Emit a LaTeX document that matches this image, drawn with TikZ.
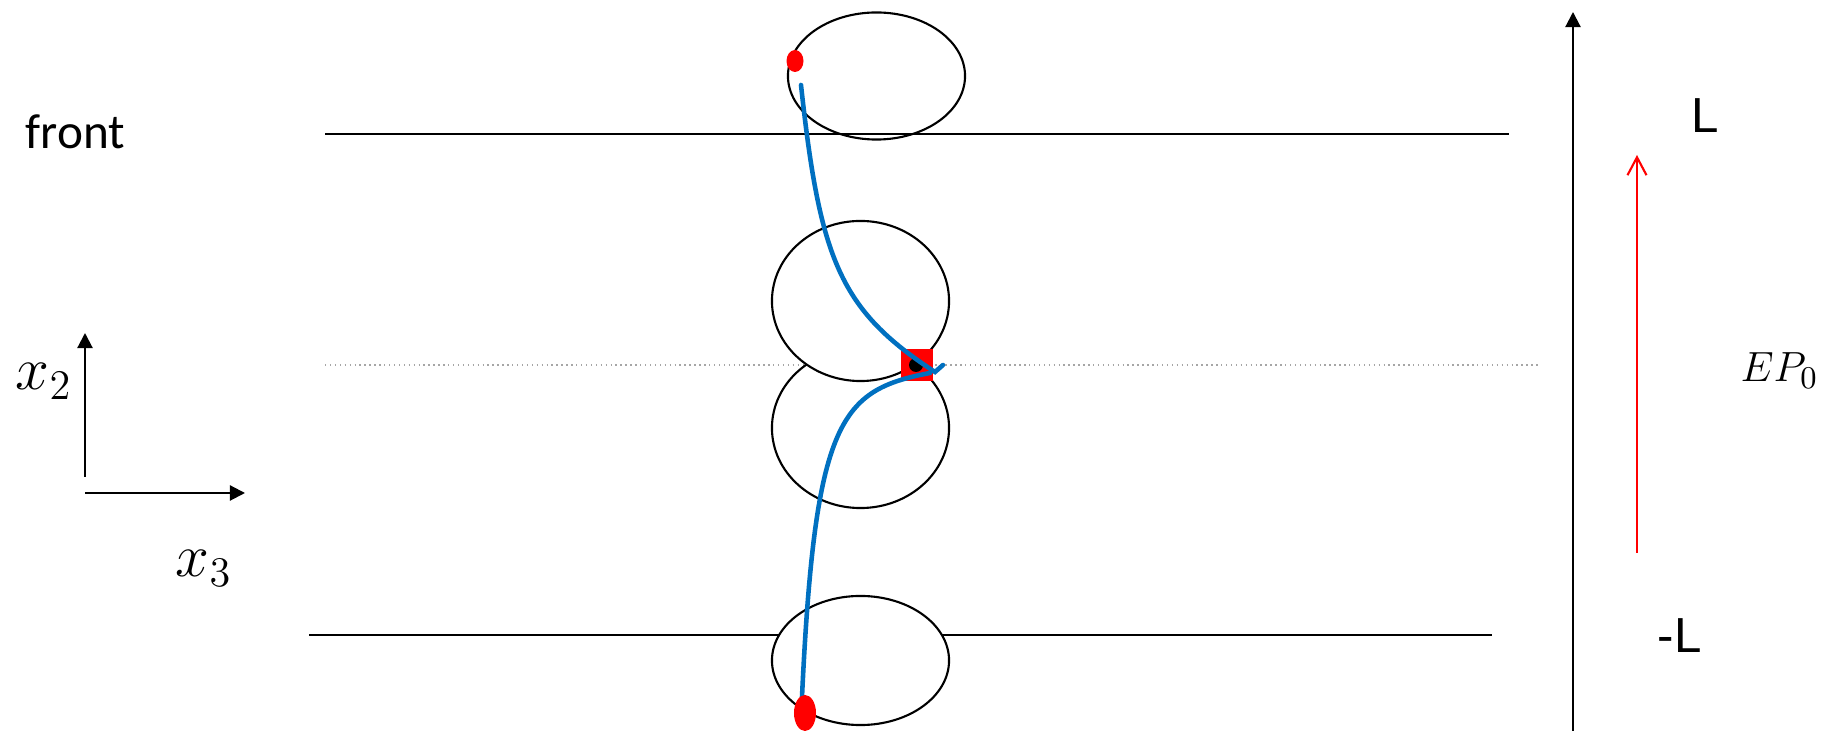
\documentclass[tikz,border=0pt]{standalone}
\usepackage{fontspec}
\newfontfamily\calibrifont{Carlito}
\newfontfamily\arialfont{Liberation Sans}
\usetikzlibrary{positioning,arrows.meta,shapes.geometric}
\definecolor{pathblue}{RGB}{0,112,192}

\tikzset{
    cell/.style={ellipse, draw=black, line width=0.6pt, inner sep=0pt, minimum width=1.77cm},
    wall/.style={line width=0.6pt},
    axis/.style={line width=0.6pt, -{Triangle[length=4.3pt, width=4.3pt]}},
    track/.style={pathblue, line width=1.3pt, line cap=round},
    reddot/.style={ellipse, fill=red, inner sep=0pt},
    lbl/.style={anchor=base west, inner sep=0pt}
}

\begin{document}
\begin{tikzpicture}[x=0.01cm, y=-0.01cm]
    \useasboundingbox (0,0) rectangle (1826,731);

    % =========================================================
    % MID-PLANE (dotted) AND THE TWO MIDDLE CELLS
    % =========================================================
    \draw[gray!70, line width=0.4pt, densely dotted] (325,365) -- (1540,365);
    \node[cell, fill=white, minimum height=1.60cm] (cellC) at (860.5,428) {};
    \node[cell, fill=white, minimum height=1.60cm] (cellB) at (860.5,301) {};

    % =========================================================
    % FRONT (top) AND BACK (bottom) WALLS
    % =========================================================
    \draw[wall] (325,134) -- (1509,134);
    \node[cell, minimum height=1.27cm] (cellA) at (876.5,76) {};

    \draw[wall] (309,635) -- (1492,635);
    \node[cell, fill=white, minimum height=1.29cm] (cellD) at (860.5,660.5) {};

    % Equilibrium point
    \node[rectangle, fill=red, inner sep=0pt, minimum size=0.31cm] (ep) at (917,365) {};
    \node[circle, fill=black, inner sep=0pt, minimum size=0.14cm] (epc) at (916,365) {};

    % Trajectory
    \coordinate (ptop) at (801,85);
    \coordinate (pin) at (935,372);
    \coordinate (phook) at (943,365);
    \coordinate (pout) at (930,373);
    \coordinate (pbot) at (802,697);
    \draw[track] (ptop) .. controls (820,260) and (840,310) .. (pin) -- (phook);
    \draw[track] (pout) .. controls (840,390) and (815,420) .. (pbot);

    \node[reddot, minimum width=0.17cm, minimum height=0.22cm] (start) at (795,61) {};
    \node[reddot, minimum width=0.22cm, minimum height=0.36cm] (stop) at (805,713) {};

    % =========================================================
    % LABELS AND AXES
    % =========================================================
    \node[lbl, font=\calibrifont\fontsize{14}{16}\selectfont] (front) at (25,149) {front};

    \coordinate (o2) at (85,477);
    \coordinate (e2) at (85,333);
    \coordinate (o3) at (85,493);
    \coordinate (e3) at (245,493);
    \draw[axis] (o2) -- (e2);
    \draw[axis] (o3) -- (e3);
    \node[lbl, font=\fontsize{17}{20}\selectfont] (xtwo) at (15,390) {$x_2$};
    \node[lbl, font=\fontsize{17}{20}\selectfont] (xthree) at (175,577) {$x_3$};

    % Right-hand axis and field arrow
    \coordinate (zb) at (1573,731);
    \coordinate (zt) at (1573,12);
    \draw[axis] (zb) -- (zt);
    \coordinate (fb) at (1637,553);
    \coordinate (ft) at (1637,155);
    \draw[red, line width=0.6pt, -{Straight Barb[length=5.1pt, width=5.4pt]}] (fb) -- (ft);

    \node[lbl, font=\arialfont\fontsize{14}{16}\selectfont] (lup) at (1691,133) {L};
    \node[lbl, font=\arialfont\fontsize{14}{16}\selectfont] (ldown) at (1657,653) {-L};
    \node[lbl, font=\fontsize{13}{16}\selectfont] (eplabel) at (1740,382) {$EP_0$};
\end{tikzpicture}
\end{document}
